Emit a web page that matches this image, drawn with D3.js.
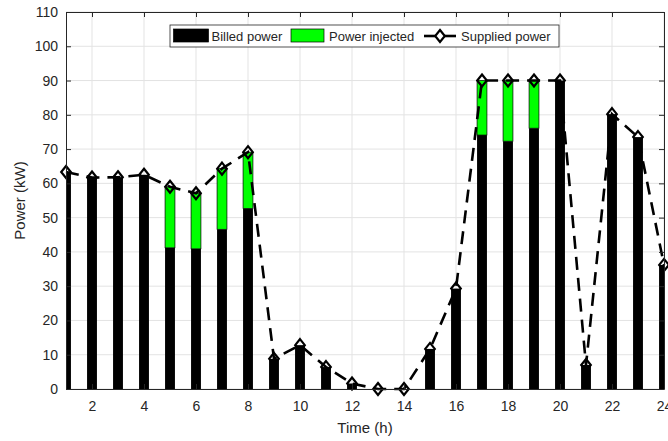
<!DOCTYPE html>
<html>
<head>
<meta charset="utf-8">
<script src="https://cdn.jsdelivr.net/npm/d3@7"></script>
<style>
  body { margin: 0; background: #fff; }
  text { font-family: "Liberation Sans", Arial, sans-serif; fill: #262626; }
</style>
</head>
<body>
<div id="chart"></div>
<script>
var svgWidth = 668;
var svgHeight = 441;

var margin = { top: 12, right: 4, bottom: 52, left: 66 };
var width = 598;
var height = 377;

// data
var hours = [1, 2, 3, 4, 5, 6, 7, 8, 9, 10, 11, 12, 13, 14, 15, 16, 17, 18, 19, 20, 21, 22, 23, 24];
var supplied = [63.3, 61.7, 61.8, 62.5, 59, 57.1, 64.3, 69.1, 8.8, 12.8, 6.4, 1.6, 0, 0, 11.7, 29.3, 90, 90, 90, 90, 7, 80.2, 73.5, 36.2];
var billed = [63.3, 61.7, 61.8, 62.5, 41.2, 40.9, 46.6, 52.7, 8.8, 12.8, 6.4, 1.6, 0, 0, 11.7, 29.3, 74.1, 72.3, 76.1, 90, 7, 80.2, 73.5, 36.2];
var xTicks = [2, 4, 6, 8, 10, 12, 14, 16, 18, 20, 22, 24];
var yTicks = [0, 10, 20, 30, 40, 50, 60, 70, 80, 90, 100, 110];

var injected = supplied.map((s, i) => s - billed[i]);
var data = hours.map((h, i) => ({ h: h, billed: billed[i], injected: injected[i], supplied: supplied[i] }));

var svg = d3.select("#chart")
  .append("svg")
  .attr("width", svgWidth)
  .attr("height", svgHeight);

var chartGroup = svg.append("g")
  .attr("transform", `translate(${margin.left}, ${margin.top})`);

var x = d3.scaleLinear().domain([1, 24]).range([0, width]);
var y = d3.scaleLinear().domain([0, 110]).range([height, 0]);

// grid
chartGroup.append("g").selectAll("line").data(xTicks).enter().append("line")
  .attr("x1", d => x(d)).attr("x2", d => x(d))
  .attr("y1", 0).attr("y2", height)
  .attr("stroke", "#e3e3e3");
chartGroup.append("g").selectAll("line").data(yTicks).enter().append("line")
  .attr("y1", d => y(d)).attr("y2", d => y(d))
  .attr("x1", 0).attr("x2", width)
  .attr("stroke", "#e3e3e3");

svg.append("defs").append("clipPath").attr("id", "clip")
  .append("rect").attr("width", width).attr("height", height);

// stacked bars
var barW = x(1.38) - x(1);
var bars = chartGroup.append("g").attr("clip-path", "url(#clip)");
bars.selectAll(".billed").data(data).enter().append("rect")
  .attr("class", "billed")
  .attr("x", d => x(d.h) - barW / 2)
  .attr("width", barW)
  .attr("y", d => y(d.billed))
  .attr("height", d => y(0) - y(d.billed))
  .attr("fill", "#000");
bars.selectAll(".inj").data(data.filter(d => d.injected > 0)).enter().append("rect")
  .attr("class", "inj")
  .attr("x", d => x(d.h) - barW / 2)
  .attr("width", barW)
  .attr("y", d => y(d.supplied))
  .attr("height", d => y(d.billed) - y(d.supplied))
  .attr("fill", "#00ff00")
  .attr("stroke", "#000")
  .attr("stroke-width", 0.7);

// supplied power line
var line = d3.line().x(d => x(d.h)).y(d => y(d.supplied));
chartGroup.append("path")
  .datum(data)
  .attr("d", line)
  .attr("fill", "none")
  .attr("stroke", "#000")
  .attr("stroke-width", 2.6)
  .attr("stroke-dasharray", "13,8");

// hollow diamonds, like the default marker
var diamond = "M0,-6L4.8,0L0,6L-4.8,0Z";
chartGroup.selectAll(".mk").data(data).enter().append("path")
  .attr("class", "mk")
  .attr("d", diamond)
  .attr("transform", d => `translate(${x(d.h)},${y(d.supplied)})`)
  .attr("fill", "none")
  .attr("stroke", "#000")
  .attr("stroke-width", 2.2);

// axes
var axisColor = "#262626";
var bottomAxis = d3.axisBottom(x).tickValues(xTicks).tickSizeInner(-5).tickSizeOuter(0).tickPadding(12);
var topAxis = d3.axisTop(x).tickValues(xTicks).tickSizeInner(-5).tickSizeOuter(0).tickFormat("");
var leftAxis = d3.axisLeft(y).tickValues(yTicks).tickSizeInner(-5).tickSizeOuter(0).tickPadding(8);
var rightAxis = d3.axisRight(y).tickValues(yTicks).tickSizeInner(-5).tickSizeOuter(0).tickFormat("");

var gb = chartGroup.append("g").attr("transform", `translate(0, ${height})`).call(bottomAxis);
var gt = chartGroup.append("g").call(topAxis);
var gl = chartGroup.append("g").call(leftAxis);
var gr = chartGroup.append("g").attr("transform", `translate(${width}, 0)`).call(rightAxis);
[gb, gt, gl, gr].forEach(g => {
  g.selectAll("path").attr("stroke", axisColor);
  g.selectAll("line").attr("stroke", axisColor);
  g.selectAll("text").style("font-size", "14px").attr("fill", axisColor)
    .style("font-family", "'Liberation Sans', Arial, sans-serif");
});

// axis labels
svg.append("text")
  .attr("x", margin.left + width / 2).attr("y", 433)
  .attr("text-anchor", "middle")
  .style("font-size", "15px")
  .text("Time (h)");
svg.append("text")
  .attr("transform", `translate(25, ${margin.top + height / 2}) rotate(-90)`)
  .attr("text-anchor", "middle")
  .style("font-size", "15px")
  .text("Power (kW)");

// legend
var lg = svg.append("g").attr("transform", "translate(170, 25)");
lg.append("rect").attr("width", 389).attr("height", 22)
  .attr("fill", "#fff").attr("stroke", "#262626").attr("stroke-width", 0.8);
lg.append("rect").attr("x", 3.5).attr("y", 4).attr("width", 35).attr("height", 13)
  .attr("fill", "#000").attr("stroke", "#000").attr("stroke-width", 0.7);
lg.append("text").attr("x", 41.5).attr("y", 15.5).style("font-size", "13px").text("Billed power");
lg.append("rect").attr("x", 121).attr("y", 4).attr("width", 33).attr("height", 13)
  .attr("fill", "#00ff00").attr("stroke", "#000").attr("stroke-width", 0.7);
lg.append("text").attr("x", 159).attr("y", 15.5).style("font-size", "13px").text("Power injected");
lg.append("line").attr("x1", 254).attr("x2", 286).attr("y1", 11).attr("y2", 11)
  .attr("stroke", "#000").attr("stroke-width", 2.6);
lg.append("path").attr("d", diamond).attr("transform", "translate(270,11)")
  .attr("fill", "#fff").attr("stroke", "#000").attr("stroke-width", 2.2);
lg.append("text").attr("x", 291).attr("y", 15.5).style("font-size", "13px").text("Supplied power");
</script>
</body>
</html>
